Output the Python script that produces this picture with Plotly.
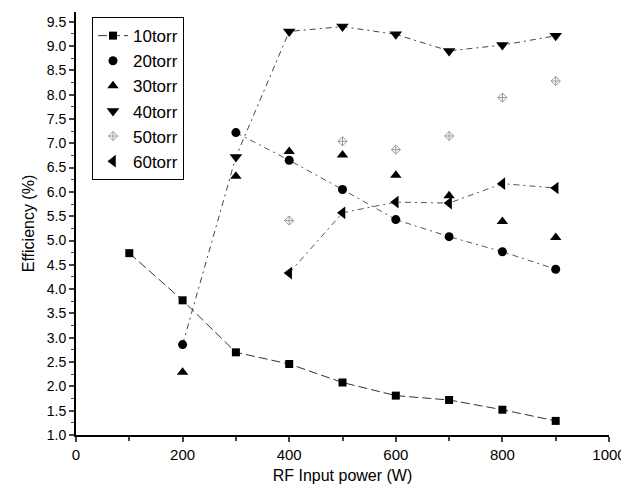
import plotly.graph_objects as go

# ---- data ----
power_10 = [100, 200, 300, 400, 500, 600, 700, 800, 900]
eff_10 = [4.74, 3.77, 2.70, 2.46, 2.08, 1.81, 1.72, 1.52, 1.29]

power_20 = [200, 300, 400, 500, 600, 700, 800, 900]
eff_20 = [2.86, 7.22, 6.65, 6.05, 5.43, 5.08, 4.77, 4.41]

power_30 = [200, 300, 400, 500, 600, 700, 800, 900]
eff_30 = [2.29, 6.32, 6.83, 6.76, 6.34, 5.92, 5.39, 5.06]

power_40 = [300, 400, 500, 600, 700, 800, 900]
eff_40 = [6.72, 9.30, 9.40, 9.24, 8.90, 9.02, 9.21]

power_50 = [400, 500, 600, 700, 800, 900]
eff_50 = [5.41, 7.04, 6.87, 7.15, 7.94, 8.28]

power_60 = [400, 500, 600, 700, 800, 900]
eff_60 = [4.33, 5.57, 5.79, 5.77, 6.17, 6.08]

x_ticks = [0, 200, 400, 600, 800, 1000]
y_ticks = [1.0, 1.5, 2.0, 2.5, 3.0, 3.5, 4.0, 4.5, 5.0, 5.5, 6.0, 6.5,
           7.0, 7.5, 8.0, 8.5, 9.0, 9.5]
peak_label = "9.2%"

FONT = "Arial, Liberation Sans, Helvetica, sans-serif"
DASHDOT = "6px,4px,2px,4px"
fig = go.Figure()

# connecting lines without legend symbols
fig.add_trace(go.Scatter(x=power_20[1:], y=eff_20[1:], mode="lines",
                         line=dict(color="#555", width=1, dash=DASHDOT),
                         showlegend=False, hoverinfo="skip"))
fig.add_trace(go.Scatter(x=[power_20[0]] + power_40, y=[eff_20[0]] + eff_40,
                         mode="lines",
                         line=dict(color="#444", width=1, dash=DASHDOT),
                         showlegend=False, hoverinfo="skip"))
fig.add_trace(go.Scatter(x=power_60, y=eff_60, mode="lines",
                         line=dict(color="#555", width=1, dash=DASHDOT),
                         showlegend=False, hoverinfo="skip"))

fig.add_trace(go.Scatter(x=power_10, y=eff_10, mode="lines+markers", name="10torr",
                         line=dict(color="#333", width=1, dash="9px,4px"),
                         marker=dict(symbol="square", size=8, color="black")))
fig.add_trace(go.Scatter(x=power_20, y=eff_20, mode="markers", name="20torr",
                         marker=dict(symbol="circle", size=9, color="black")))
fig.add_trace(go.Scatter(x=power_30, y=eff_30, mode="markers", name="30torr",
                         marker=dict(symbol="triangle-up", size=10, color="black")))
fig.add_trace(go.Scatter(x=power_40, y=eff_40, mode="markers", name="40torr",
                         marker=dict(symbol="triangle-down", size=11, color="black")))
fig.add_trace(go.Scatter(x=power_50, y=eff_50, mode="markers", name="50torr",
                         marker=dict(symbol="diamond-cross-open", size=7, color="#999",
                                     line=dict(width=1, color="#999"))))
fig.add_trace(go.Scatter(x=power_60, y=eff_60, mode="markers", name="60torr",
                         marker=dict(symbol="triangle-left", size=11, color="black")))

fig.add_annotation(x=833, y=9.72, xref="x", yref="y", text=peak_label,
                   showarrow=False, font=dict(family=FONT, size=16, color="black"))

# the page adds an 8px body margin, so the figure is sized to fit the 629x500 window
fig.update_layout(
    width=621, height=492,
    margin=dict(l=68, r=20, t=4, b=65),
    paper_bgcolor="white", plot_bgcolor="white",
    font=dict(family=FONT, size=15, color="black"),
    showlegend=True,
    legend=dict(x=0.03, y=0.988, xanchor="left", yanchor="top",
                bgcolor="white", bordercolor="black", borderwidth=1,
                font=dict(family=FONT, size=17, color="black"),
                tracegroupgap=0, itemwidth=30),
    xaxis=dict(range=[0, 1000], tickvals=x_ticks, ticks="outside", ticklen=5,
               tickwidth=1.5, showline=True, linecolor="black", linewidth=2,
               showgrid=False, zeroline=False, automargin=False,
               ticklabeloverflow="allow",
               minor=dict(dtick=100, ticks="outside", ticklen=4, tickwidth=1.5),
               title=dict(text="RF Input power (W)", font=dict(size=16), standoff=8),
               tickfont=dict(size=15)),
    yaxis=dict(range=[1.0, 9.7], tickvals=y_ticks, tickformat=".1f",
               ticks="outside", ticklen=5, tickwidth=1.5,
               showline=True, linecolor="black", linewidth=2,
               showgrid=False, zeroline=False, automargin=False,
               ticklabeloverflow="allow",
               minor=dict(dtick=0.25, tick0=1.0, ticks="outside", ticklen=3, tickwidth=1),
               title=dict(text="Efficiency (%)", font=dict(size=16), standoff=8),
               tickfont=dict(size=14)),
)

fig.write_html("out.html")
